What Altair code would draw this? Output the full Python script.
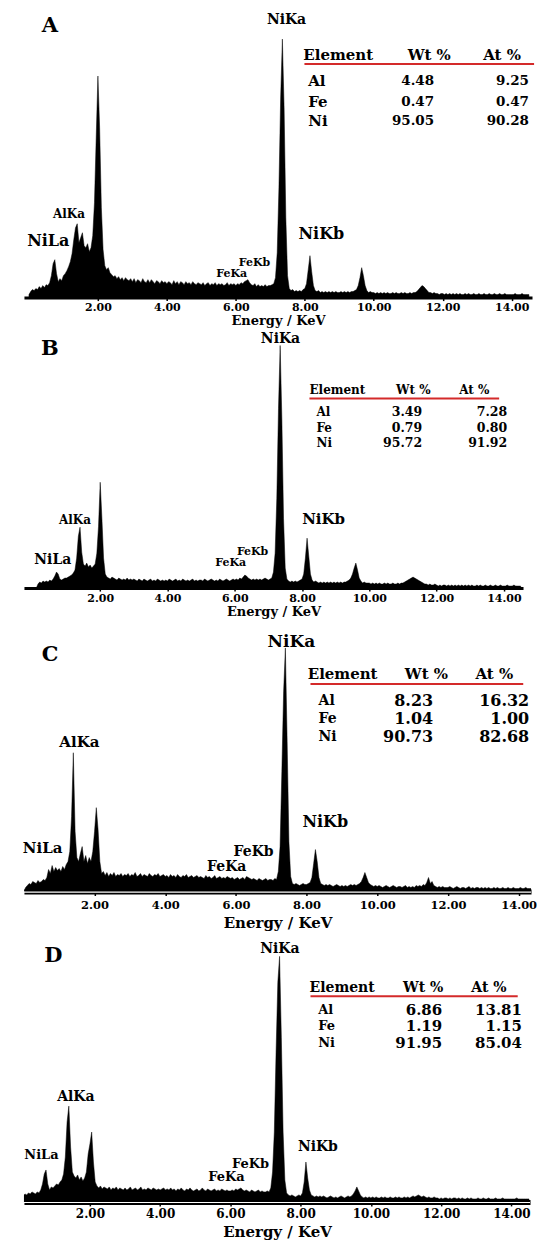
import altair as alt
import pandas as pd

# ---------------- data ----------------
E_STEP = 0.05  # keV per channel, channel 0 = 0.00 keV

COUNTS_A = [
    3, 6, 8, 7, 9, 8, 11, 9, 12, 10, 13, 12, 15, 22, 34, 38, 24, 16, 19, 17,
    22, 24, 27, 31, 36, 44, 58, 70, 74, 55, 60, 65, 52, 50, 54, 46, 50, 62, 95, 160,
    222, 170, 90, 48, 32, 28, 30, 25, 23, 21, 22, 19, 21, 18, 20, 17, 20, 18, 17, 19,
    16, 19, 15, 18, 17, 15, 19, 16, 15, 18, 15, 18, 16, 14, 17, 16, 14, 17, 15, 16,
    14, 16, 15, 13, 17, 14, 16, 13, 16, 15, 13, 16, 14, 15, 13, 16, 14, 13, 15, 14,
    13, 15, 12, 14, 15, 12, 14, 13, 15, 12, 14, 13, 14, 12, 13, 15, 12, 14, 13, 14,
    12, 14, 13, 15, 14, 16, 17, 18, 15, 13, 12, 14, 11, 13, 11, 12, 11, 13, 11, 12,
    12, 13, 14, 20, 45, 110, 200, 259, 190, 80, 22, 9, 7, 8, 6, 7, 6, 7, 6, 8,
    9, 14, 28, 42, 26, 12, 7, 6, 7, 5, 6, 5, 6, 5, 6, 5, 6, 5, 6, 5,
    5, 6, 5, 6, 5, 6, 5, 6, 6, 7, 8, 12, 20, 30, 22, 12, 7, 5, 6, 5,
    5, 4, 5, 4, 5, 4, 5, 4, 5, 4, 4, 5, 4, 5, 4, 4, 5, 4, 5, 4,
    4, 5, 4, 5, 5, 6, 8, 10, 12, 11, 9, 7, 5, 5, 4, 5, 4, 4, 3, 4,
    4, 3, 4, 3, 4, 3, 4, 3, 4, 3, 4, 3, 3, 4, 3, 4, 3, 3, 4, 3,
    3, 4, 3, 3, 4, 3, 3, 4, 3, 3, 4, 3, 3, 4, 3, 3, 4, 3, 3, 3,
    3, 3, 4, 3, 3, 3, 4, 3, 3, 3, 3,
]

COUNTS_B = [
    0, 0, 0, 4, 6, 5, 7, 6, 7, 6, 8, 7, 9, 12, 16, 14, 9, 8, 9, 10,
    10, 11, 12, 13, 15, 18, 30, 52, 61, 36, 24, 22, 25, 21, 23, 20, 22, 24, 35, 62,
    106, 70, 30, 14, 11, 10, 9, 11, 10, 9, 8, 10, 9, 8, 9, 8, 10, 8, 9, 8,
    9, 8, 7, 9, 8, 7, 9, 8, 7, 8, 9, 7, 8, 7, 9, 8, 7, 8, 7, 8,
    7, 9, 8, 7, 8, 9, 7, 8, 7, 9, 8, 7, 8, 7, 8, 9, 7, 8, 7, 8,
    8, 7, 9, 8, 7, 8, 9, 8, 7, 8, 7, 9, 8, 7, 8, 9, 8, 7, 8, 9,
    8, 9, 8, 10, 9, 11, 13, 12, 10, 9, 8, 9, 8, 9, 8, 9, 8, 9, 10, 9,
    8, 9, 10, 16, 35, 90, 180, 243, 170, 70, 20, 9, 7, 6, 7, 6, 7, 6, 7, 8,
    9, 14, 30, 50, 32, 14, 8, 6, 7, 6, 5, 6, 5, 6, 5, 6, 5, 6, 5, 6,
    5, 6, 5, 6, 5, 6, 6, 7, 8, 10, 14, 20, 25, 18, 10, 7, 5, 6, 5, 5,
    5, 4, 5, 4, 5, 4, 5, 4, 4, 5, 4, 5, 4, 4, 5, 4, 4, 5, 4, 5,
    5, 6, 7, 8, 9, 10, 11, 10, 9, 8, 7, 6, 5, 4, 4, 3, 4, 3, 3, 4,
    3, 2, 3, 2, 3, 3, 2, 3, 2, 3, 2, 3, 2, 3, 2, 3, 2, 3, 2, 3,
    2, 3, 2, 2, 3, 2, 3, 2, 2, 3, 2, 2, 3, 2, 2, 3, 2, 2, 3, 2,
    2, 2, 3, 2, 2, 2, 3, 2, 2, 2, 2,
]

COUNTS_C = [
    0, 4, 6, 8, 7, 10, 9, 8, 11, 9, 10, 12, 11, 14, 22, 18, 26, 20, 24, 21,
    23, 20, 25, 22, 27, 30, 40, 75, 139, 60, 34, 30, 38, 45, 30, 36, 28, 34, 30, 40,
    60, 84, 62, 30, 18, 20, 16, 19, 15, 18, 16, 19, 15, 17, 16, 18, 15, 17, 16, 18,
    15, 17, 16, 19, 15, 16, 18, 15, 17, 16, 15, 18, 16, 15, 17, 16, 18, 15, 16, 17,
    15, 16, 14, 17, 15, 16, 14, 17, 15, 14, 16, 15, 17, 14, 15, 16, 14, 15, 16, 14,
    15, 14, 13, 16, 14, 15, 13, 14, 16, 13, 14, 15, 13, 14, 13, 15, 14, 13, 14, 12,
    13, 14, 12, 13, 14, 12, 15, 14, 13, 12, 13, 12, 11, 13, 12, 11, 12, 13, 11, 12,
    12, 11, 13, 12, 20, 45, 120, 200, 244, 150, 50, 15, 8, 7, 8, 7, 6, 7, 8, 7,
    7, 8, 9, 14, 28, 42, 30, 14, 8, 7, 6, 7, 6, 7, 6, 5, 6, 7, 6, 5,
    6, 5, 6, 5, 6, 7, 6, 7, 6, 7, 8, 10, 14, 19, 14, 9, 7, 6, 5, 6,
    5, 6, 5, 4, 5, 6, 5, 4, 5, 6, 5, 4, 5, 5, 4, 5, 6, 4, 5, 4,
    5, 4, 6, 5, 6, 5, 7, 6, 9, 14, 8, 10, 6, 5, 4, 5, 4, 5, 4, 4,
    4, 5, 4, 3, 4, 5, 4, 3, 4, 4, 3, 4, 5, 3, 4, 3, 4, 4, 3, 4,
    3, 4, 3, 4, 3, 3, 4, 3, 4, 3, 3, 4, 3, 3, 4, 3, 3, 4, 3, 3,
    3, 4, 3, 3, 4, 3, 3, 3, 4, 3, 3,
]

COUNTS_D = [
    0, 5, 6, 8, 7, 9, 8, 10, 9, 8, 10, 9, 12, 18, 28, 32, 18, 12, 15, 14,
    16, 18, 17, 20, 22, 28, 45, 80, 96, 55, 30, 26, 24, 27, 22, 25, 21, 24, 30, 48,
    58, 70, 40, 20, 16, 14, 16, 13, 15, 14, 13, 15, 12, 14, 13, 15, 12, 14, 13, 12,
    14, 12, 13, 15, 12, 13, 14, 12, 13, 15, 12, 13, 12, 14, 13, 12, 14, 13, 12, 13,
    12, 13, 14, 12, 13, 12, 14, 12, 13, 11, 13, 12, 14, 12, 11, 13, 12, 14, 12, 11,
    12, 13, 11, 12, 14, 12, 11, 13, 12, 11, 12, 13, 11, 12, 11, 13, 12, 11, 12, 11,
    11, 12, 11, 13, 12, 13, 14, 12, 11, 12, 11, 10, 12, 11, 10, 11, 12, 10, 11, 10,
    10, 11, 10, 14, 30, 70, 150, 220, 246, 165, 70, 22, 9, 7, 6, 7, 6, 5, 6, 7,
    6, 9, 20, 40, 24, 12, 7, 6, 5, 6, 5, 6, 5, 6, 5, 4, 5, 6, 5, 4,
    5, 4, 5, 6, 5, 4, 5, 6, 5, 6, 8, 11, 15, 11, 7, 5, 4, 5, 4, 5,
    4, 5, 4, 5, 4, 4, 5, 4, 5, 4, 4, 5, 4, 4, 5, 4, 5, 4, 4, 5,
    4, 5, 4, 5, 6, 5, 6, 7, 6, 5, 6, 5, 4, 5, 4, 4, 5, 4, 4, 3,
    4, 3, 4, 4, 3, 4, 3, 4, 4, 3, 4, 3, 4, 3, 3, 4, 3, 4, 3, 3,
    3, 4, 3, 3, 4, 3, 3, 4, 3, 3, 3, 4, 3, 3, 3, 4, 3, 3, 3, 3,
    3, 3, 3, 4, 3, 3, 3, 3, 3, 3, 3,
]

PANELS = ["A", "B", "C", "D"]
ELEMENTS = ["Al", "Fe", "Ni"]
HEADERS = ["Element", "Wt %", "At %"]
PEAK_NAMES = ["NiKa", "NiLa", "AlKa", "NiKb", "FeKb", "FeKa"]
WT_A = ["4.48", "0.47", "95.05"]
AT_A = ["9.25", "0.47", "90.28"]
WT_B = ["3.49", "0.79", "95.72"]
AT_B = ["7.28", "0.80", "91.92"]
WT_C = ["8.23", "1.04", "90.73"]
AT_C = ["16.32", "1.00", "82.68"]
WT_D = ["6.86", "1.19", "91.95"]
AT_D = ["13.81", "1.15", "85.04"]
TICK_VALUES = [2, 4, 6, 8, 10, 12, 14]

# ---------------- layout / style ----------------
FONT = "DejaVu Serif"
RED = "#d42a2a"

LAYOUT = {
    "A": dict(width=509, height=292, xdom=[-0.145, 14.59],
              letter=(0.61, 272, 21),
              peaks=[(7.47, 278, 14), (0.56, 57, 16), (1.16, 84, 12),
                     (8.48, 64, 16), (6.54, 35, 11), (5.88, 24, 11)],
              head_y=243, head_x=[8.97, 11.61, 13.72], head_fs=15,
              rule=(7.99, 14.65, 234),
              rows_y=[217, 196, 177], name_x=8.10, wt_x=11.75, at_x=14.50,
              name_fs=15, val_fs=13.5,
              lab_fs=11, tit_fs=13, tick=3, lab_pad=1, tit_pad=2, dom_w=3, split=False),
    "B": dict(width=500, height=258, xdom=[-0.267, 14.57],
              letter=(0.50, 239, 21),
              peaks=[(7.36, 250, 14), (0.59, 28, 14), (1.25, 68, 12),
                     (8.64, 69, 15), (6.53, 36, 11), (5.88, 25, 11)],
              head_y=198, head_x=[9.05, 11.31, 13.12], head_fs=12,
              rule=(8.22, 13.86, 190),
              rows_y=[176, 160, 145], name_x=8.43, wt_x=11.57, at_x=14.10,
              name_fs=12, val_fs=12.5,
              lab_fs=11, tit_fs=13, tick=3, lab_pad=1, tit_pad=2, dom_w=3, split=False),
    "C": dict(width=508, height=271, xdom=[0.003, 14.35],
              letter=(0.74, 237, 21),
              peaks=[(7.57, 250, 17), (0.53, 44, 15), (1.57, 150, 15),
                     (8.53, 70, 16), (6.50, 40, 14), (5.74, 25, 14)],
              head_y=218, head_x=[9.02, 11.39, 13.31], head_fs=15,
              rule=(8.11, 14.13, 208),
              rows_y=[191, 173, 155], name_x=8.34, wt_x=11.58, at_x=14.30,
              name_fs=14, val_fs=16,
              lab_fs=11.5, tit_fs=15, tick=4, lab_pad=4, tit_pad=5, dom_w=5, split=True),
    "D": dict(width=507, height=278, xdom=[0.122, 14.53],
              letter=(0.96, 246, 21),
              peaks=[(7.41, 253, 14), (0.62, 47, 13), (1.60, 105, 14),
                     (8.49, 55, 14), (6.57, 38, 13), (5.89, 25, 13)],
              head_y=214, head_x=[9.18, 11.49, 13.36], head_fs=14,
              rule=(8.28, 14.18, 206),
              rows_y=[192, 176, 159], name_x=8.50, wt_x=12.03, at_x=14.30,
              name_fs=13, val_fs=15,
              lab_fs=12, tit_fs=15, tick=4, lab_pad=3, tit_pad=5, dom_w=5, split=True),
}

COUNTS = {"A": COUNTS_A, "B": COUNTS_B, "C": COUNTS_C, "D": COUNTS_D}
WT = {"A": WT_A, "B": WT_B, "C": WT_C, "D": WT_D}
AT = {"A": AT_A, "B": AT_B, "C": AT_C, "D": AT_D}


def text_layer(df, align):
    return alt.Chart(df).mark_text(
        font=FONT, fontWeight="bold", align=align, baseline="middle", color="black"
    ).encode(
        x="E:Q", y="counts:Q", text="text:N",
        size=alt.Size("fs:Q", scale=None, legend=None),
    )


def make_panel(key):
    L = LAYOUT[key]
    counts = COUNTS[key]
    xs = alt.Scale(domain=L["xdom"], nice=False, zero=False)
    ys = alt.Scale(domain=[0, L["height"]], nice=False, zero=True)
    spec = pd.DataFrame({
        "E": [round(i * E_STEP, 2) for i in range(len(counts))],
        "counts": counts,
    })
    axis = alt.Axis(
        values=TICK_VALUES, format=".2f", title="Energy / KeV", grid=False,
        labelFont=FONT, labelFontWeight="bold", labelFontSize=L["lab_fs"], labelColor="black",
        titleFont=FONT, titleFontWeight="bold", titleFontSize=L["tit_fs"], titleColor="black",
        domainColor="black", domainWidth=L["dom_w"], tickColor="black", tickWidth=1.5,
        tickSize=L["tick"], labelPadding=L["lab_pad"], titlePadding=L["tit_pad"],
        labelOverlap=False,
    )
    area = alt.Chart(spec).mark_area(
        color="black", clip=True, interpolate="linear", stroke="black", strokeWidth=0.5
    ).encode(
        x=alt.X("E:Q", scale=xs, axis=axis),
        y=alt.Y("counts:Q", scale=ys, axis=None),
    )

    # centred labels: panel letter, peak names, table headers
    c_rows = [dict(E=L["letter"][0], counts=L["letter"][1], text=key, fs=L["letter"][2])]
    for name, (ex, cy, fs) in zip(PEAK_NAMES, L["peaks"]):
        c_rows.append(dict(E=ex, counts=cy, text=name, fs=fs))
    for h, hx in zip(HEADERS, L["head_x"]):
        c_rows.append(dict(E=hx, counts=L["head_y"], text=h, fs=L["head_fs"]))
    centre = text_layer(pd.DataFrame(c_rows), "center")

    names = text_layer(pd.DataFrame({
        "E": [L["name_x"]] * len(ELEMENTS), "counts": L["rows_y"],
        "text": ELEMENTS, "fs": [L["name_fs"]] * len(ELEMENTS)}), "left")
    vals = text_layer(pd.DataFrame({
        "E": [L["wt_x"]] * 3 + [L["at_x"]] * 3,
        "counts": L["rows_y"] + L["rows_y"],
        "text": WT[key] + AT[key],
        "fs": [L["val_fs"]] * 6}), "right")

    rule = alt.Chart(pd.DataFrame({"E": [L["rule"][0]], "E2": [L["rule"][1]],
                                   "counts": [L["rule"][2]]})).mark_rule(
        color=RED, strokeWidth=2).encode(x="E:Q", x2="E2:Q", y="counts:Q")

    layers = [area, centre, names, vals, rule]
    if L["split"]:
        split = alt.Chart(pd.DataFrame({"E": [L["xdom"][0]], "E2": [L["xdom"][1]],
                                        "counts": [-0.6]})).mark_rule(
            color="white", strokeWidth=1.2).encode(x="E:Q", x2="E2:Q", y="counts:Q")
        layers.append(split)
    return alt.layer(*layers).properties(width=L["width"], height=L["height"])


chart = alt.vconcat(
    *[make_panel(k) for k in PANELS], spacing=33, bounds="flush"
).properties(
    padding={"left": 22, "top": 5, "right": 0, "bottom": 0},
    background="white",
).configure_view(stroke=None, strokeWidth=0)

chart.save("out.html", embed_options={"renderer": "svg", "actions": False})
